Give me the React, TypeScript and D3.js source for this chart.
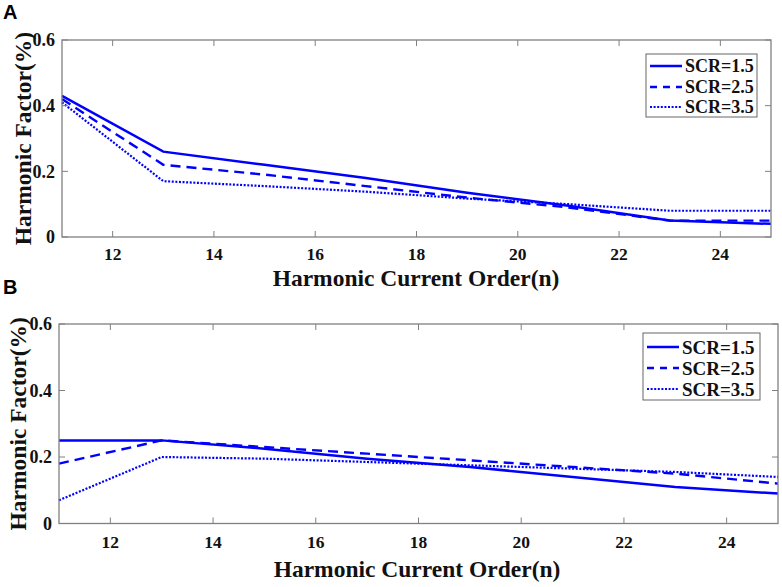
import React from 'react';
import * as d3 from 'd3';

// harmonic orders and harmonic factor (%) per SCR case
const orders = [11, 13, 15, 17, 19, 21, 23, 25];
const seriesNames = ['SCR=1.5', 'SCR=2.5', 'SCR=3.5'];

const scr15A = [0.43, 0.26, 0.22, 0.18, 0.135, 0.095, 0.05, 0.04];
const scr25A = [0.42, 0.22, 0.19, 0.155, 0.12, 0.09, 0.05, 0.05];
const scr35A = [0.41, 0.17, 0.155, 0.138, 0.117, 0.1, 0.08, 0.08];

const scr15B = [0.25, 0.25, 0.225, 0.195, 0.17, 0.14, 0.11, 0.09];
const scr25B = [0.18, 0.25, 0.23, 0.21, 0.19, 0.17, 0.15, 0.12];
const scr35B = [0.07, 0.2, 0.195, 0.185, 0.175, 0.165, 0.155, 0.14];

const xTicks = [12, 14, 16, 18, 20, 22, 24];
const yTicks = [0, 0.2, 0.4, 0.6];

const xTitle = 'Harmonic Current Order(n)';
const yTitle = 'Harmonic Factor(%)';

const BLUE = '#0000ff';
const dashes = ['none', '10,6', '2,1.6'];
const widths = [2.5, 2.4, 2.2];
const serif = '"Liberation Serif", "Times New Roman", serif';

interface PanelProps {
    tag: string;
    tagY: number;
    left: number;
    right: number;
    top: number;
    bottom: number;
    tickBase: number;
    titleBase: number;
    titleX: number;
    yTitleX: number;
    legend: { x0: number; x1: number; y0: number; y1: number; rows: number[]; font: number };
    series: number[][];
}

const Panel: React.FC<PanelProps> = ({ tag, tagY, left, right, top, bottom, tickBase, titleBase, titleX, yTitleX, legend, series }) => {
    const x = d3.scaleLinear().domain([11, 25]).range([left, right]);
    const y = d3.scaleLinear().domain([0, 0.6]).range([bottom, top]);
    const line = d3.line<number>()
        .x((_, i) => x(orders[i]))
        .y(d => y(d));
    const tl = 6;

    return (
        <g>
            <text x={3} y={tagY} fontFamily='"Liberation Sans", Arial, sans-serif' fontWeight="bold" fontSize={20}>{tag}</text>

            {series.map((s, i) => (
                <path key={i} d={line(s) || ''} fill="none" stroke={BLUE}
                    strokeWidth={widths[i]} strokeDasharray={dashes[i]} />
            ))}

            <rect x={left} y={top} width={right - left} height={bottom - top}
                fill="none" stroke="#808080" strokeWidth={1.3} />

            {xTicks.map(t => (
                <g key={'x' + t}>
                    <line x1={x(t)} x2={x(t)} y1={bottom} y2={bottom - tl} stroke="#808080" />
                    <line x1={x(t)} x2={x(t)} y1={top} y2={top + tl} stroke="#808080" />
                    <text x={x(t)} y={tickBase} textAnchor="middle" fontFamily={serif}
                        fontWeight="bold" fontSize={17.5} fill="#111">{t}</text>
                </g>
            ))}
            {yTicks.map(t => (
                <g key={'y' + t}>
                    <line x1={left} x2={left + tl} y1={y(t)} y2={y(t)} stroke="#808080" />
                    <line x1={right} x2={right - tl} y1={y(t)} y2={y(t)} stroke="#808080" />
                    <text x={left - 7} y={y(t)} dy="0.35em" textAnchor="end" fontFamily={serif}
                        fontWeight="bold" fontSize={18} fill="#111">{t === 0 ? '0' : t.toFixed(1)}</text>
                </g>
            ))}

            <text x={titleX} y={titleBase} textAnchor="middle" fontFamily={serif}
                fontWeight="bold" fontSize={23.5} fill="#111">{xTitle}</text>
            <text transform={`translate(${yTitleX},${(top + bottom) / 2}) rotate(-90)`} textAnchor="middle"
                fontFamily={serif} fontWeight="bold" fontSize={23.5} fill="#111">{yTitle}</text>

            <rect x={legend.x0} y={legend.y0} width={legend.x1 - legend.x0} height={legend.y1 - legend.y0}
                fill="#fff" stroke="#666" strokeWidth={1} />
            {seriesNames.map((name, i) => (
                <g key={name}>
                    <line x1={legend.x0 + 4} x2={legend.x0 + 36} y1={legend.rows[i]} y2={legend.rows[i]}
                        stroke={BLUE} strokeWidth={widths[i]} strokeDasharray={i === 1 ? '7,6' : dashes[i]} />
                    <text x={legend.x0 + 39} y={legend.rows[i]} dy="0.35em" fontFamily={serif}
                        fontWeight="bold" fontSize={legend.font} fill="#111">{name}</text>
                </g>
            ))}
        </g>
    );
};

export default function App() {
    return (
        <svg width={782} height={587} style={{ position: 'absolute', left: 0, top: 0, background: '#fff' }}>
            <Panel tag="A" tagY={19} left={62} right={771} top={40} bottom={237}
                tickBase={259.5} titleBase={286} titleX={416} yTitleX={31}
                legend={{ x0: 646, x1: 757, y0: 54, y1: 117, rows: [66, 87, 107], font: 18 }}
                series={[scr15A, scr25A, scr35A]} />
            <Panel tag="B" tagY={294} left={59} right={778} top={324} bottom={523.5}
                tickBase={548} titleBase={577} titleX={417} yTitleX={26}
                legend={{ x0: 643, x1: 760, y0: 333, y1: 400, rows: [347, 368, 389], font: 19 }}
                series={[scr15B, scr25B, scr35B]} />
        </svg>
    );
}
